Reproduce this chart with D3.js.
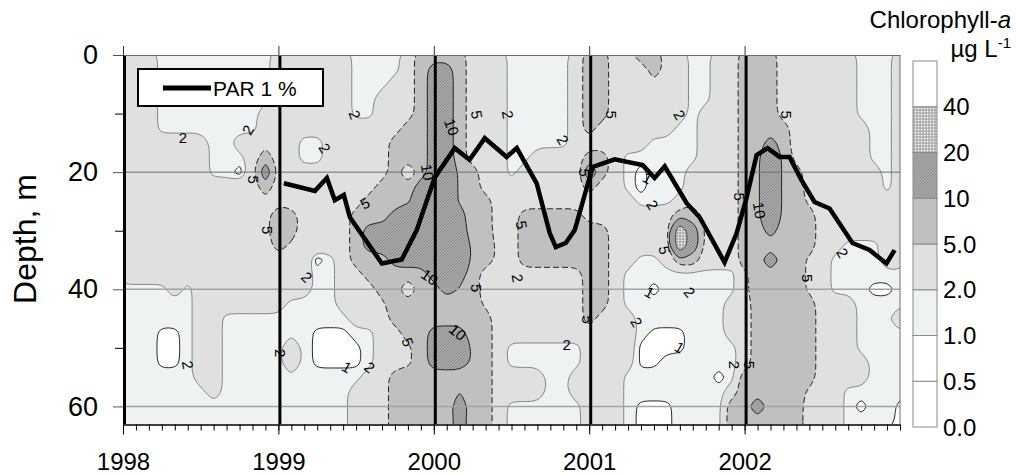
<!DOCTYPE html>
<html>
<head>
<meta charset="utf-8">
<script src="https://cdn.jsdelivr.net/npm/d3@7"></script>
<style>
  body { margin: 0; background: #fff; }
  text { font-family: "Liberation Sans", Arial, sans-serif; }
</style>
</head>
<body>
<svg id="chart" width="1016" height="475"></svg>
<script>
// Chlorophyll-a field: one column per month (Jan 1998 .. Jan 2003),
// one row every 2.5 m (0 .. 65 m). Each row is run-length coded ("code*count"),
// a code stands for the value read in that cell.
var codeValue = { w: 0.7, "1": 1.5, "2": 3, "3": 4.2, "5": 7, "9": 9.5, A: 13, B: 26 };
var nMonths = 61;
var depthStep = 2.5;

var chlRows = [
  "2*3 1*9 2*6 1*4 2 5*4 2*3 1*5 2 5*2 2*2 5*2 2*2 1*2 2*2 5*3 2*6 1*3 2",
  "2*3 1*9 2*6 1*4 2 5 A*2 5 2*3 1*5 2 5*2 2*3 5 2*2 1*2 2*2 5*3 2*6 1*3 2",
  "2*3 1*9 2*6 1*3 2*2 5 A*2 5 2*3 1*5 2 5*2 2*6 1*2 2*2 5*3 2*6 1*3 2",
  "2*3 1*9 2*6 1*2 2*3 5 A*2 5 2*3 1*5 2 5*2 2*6 1*2 2*2 5*3 2*6 1*3 2",
  "2*3 1*8 2*7 1*2 2*3 5 A*2 5 2*3 1*5 2 5*2 2*6 1 2*3 5*3 2*6 1*3 2",
  "2*3 1*8 2*11 5*2 A*2 5 2*3 1*5 2 5 2*6 1*2 2*3 5*4 2*6 1*2 2",
  "2*7 1*2 2*5 1*2 2*5 5*3 A*2 5 2*3 1*5 2*6 1*4 2*3 5*2 A 5 2*6 1*2 2",
  "2*7 1*3 2 5 2*2 1*2 2*5 5*3 A*2 5 2*3 1*2 2*4 5*2 2 1*6 2*3 5 9 A 9 2*6 1*2 2",
  "2*7 1*2 w 2 A 2*9 5 2 5 A*2 9 5 2*2 1 2*5 A 5 2 1 w 1*3 2*4 5 9 A 9 5 2*6 1 2",
  "2*11 5 2*8 5*3 A*3 9 5 2*8 5 2*2 1 w 1*3 2*4 5 9 A 9 5 2*6 1 2",
  "2*12 3 2*6 5*3 9 A*3 9 5*2 2*11 1*3 2 3 2*3 5 9 A 9 5 3 2*7",
  "2*11 3 5*2 2*4 5*3 A*6 5*2 2*2 5*5 2*6 3 5*2 3 2*2 5 9 A 9 5*2 2*7",
  "2*11 3 5*2 2*4 5 A*8 5*2 2*2 5*7 2*4 3 B A 3 2*2 5*2 A 5*3 2*7",
  "2*12 5 3 2*4 5 A*8 9 5 3 2 5*7 2*4 3 B A 3 2*2 5*6 2*2 1*3 2*2",
  "2*15 w 1 2 5*3 A*6 9 5 3 2 5*7 2*2 1*2 2 5*2 2*3 5*2 A 5*2 3 2 1*4 2*2",
  "2*15 1*2 2*2 5*5 A*3 5 2*8 5*2 2 1*9 3 5*4 3 2 1*6",
  "1*4 2 1 2*9 1*2 2*3 5*2 2 5*2 A 9 5 2*8 5*2 2 1*2 w 1*6 3 5*4 3 2 1*3 w*2 1",
  "1*6 2*7 1*4 2*3 3 5*7 3 2*7 5*2 2 1*8 2*2 5*5 2*3 1*4",
  "1*6 2*2 1*10 2*3 5*8 2*7 5 2*3 1*7 2*2 5*5 2*3 1*3 2",
  "1*3 w*2 1 2*2 1*7 w*3 1*2 2*2 5*2 A*3 5*2 2*11 1 w*3 1*3 2*2 5*5 2*3 1*4",
  "1*3 w*2 1 2*2 1*5 2 1 w*4 1 2*2 3 5 A*3 9 5 2 1*6 2*4 w*4 1*4 2 5*5 2*3 1*4",
  "1*3 w*2 1 2*2 1*5 2 1 w*4 1 2*2 3 5 A*3 9 5 2 1*6 2*4 w*2 1*6 2 5*5 2*4 1*3",
  "1*6 2*2 1*11 2*2 5*8 2*4 1*2 2*4 1*7 w 1 5*6 2*4 1*3",
  "1*7 2 1*10 2*3 5*5 9 5*2 2*4 1*2 2*4 1*8 2 5*5 3 2*2 1*5",
  "1*18 2*3 5*5 A 5*2 2 1*6 2*3 1 w*3 1*4 5*2 A 5*3 2*3 1 w 1*2 w",
  "1*18 2*3 5*5 A 5*2 2 1*6 2*3 1 w*3 1*4 5*6 2*3 1*4 w",
  "1*18 2*3 5*5 A 5*2 2 1*6 2*3 1 w*3 1*4 5*6 2*3 1*3 w*2"
];

var levels = [0.5, 1, 2, 5, 10, 20, 40];

// PAR 1 % depth
var parYears = [1999.035, 1999.235, 1999.312, 1999.363, 1999.421, 1999.46, 1999.666, 1999.794,
  1999.89, 2000.006, 2000.135, 2000.23, 2000.328, 2000.469, 2000.534, 2000.662, 2000.746,
  2000.785, 2000.849, 2000.907, 2001.022, 2001.164, 2001.344, 2001.421, 2001.486, 2001.627,
  2001.711, 2001.871, 2001.949, 2002.013, 2002.077, 2002.148, 2002.225, 2002.289, 2002.367,
  2002.45, 2002.547, 2002.694, 2002.804, 2002.913, 2002.965];
var parDepths = [21.9, 23.2, 21.0, 24.8, 23.9, 27.7, 35.6, 34.9, 29.9, 20.9, 15.9, 17.9, 14.2,
  17.4, 15.9, 21.9, 30.4, 32.8, 32.1, 29.9, 19.1, 17.8, 18.8, 21.0, 19.0, 25.3, 27.7, 35.4,
  30.4, 24.3, 17.1, 15.9, 17.4, 17.4, 21.4, 25.1, 26.2, 32.1, 33.3, 35.6, 33.3];

// contour labels: [year, depth, text, angle]
var contourLabels = [
  [1998.386, 14.0, "2", 0], [1998.804, 12.8, "2", -60], [1999.299, 15.9, "2", 60],
  [1999.492, 10.2, "2", 70], [1998.842, 21.3, "5", 90], [1998.932, 29.9, "5", 90],
  [1999.556, 25.3, "5", -30], [1999.961, 20.0, "10", 80], [2000.116, 12.3, "10", 70],
  [2000.277, 10.2, "5", 80], [2000.476, 10.2, "2", 80], [2000.830, 14.5, "2", 60],
  [2000.566, 29.0, "5", 80], [2000.971, 20.1, "5", 90], [1999.974, 37.9, "10", 35],
  [1999.183, 37.9, "2", 45], [2000.277, 39.8, "5", 90], [1999.833, 49.0, "5", 70],
  [2000.154, 47.3, "10", 40], [1999.441, 53.3, "1", 30], [1999.588, 53.3, "2", 40],
  [1999.016, 50.9, "2", 90], [1998.418, 52.9, "2", 80], [2000.855, 49.5, "2", 0],
  [2000.540, 38.1, "2", 80], [2000.990, 45.2, "5", 90], [2001.145, 10.2, "5", 90],
  [2001.582, 10.2, "2", 60], [2001.408, 25.6, "2", 60], [2001.486, 33.3, "5", 80],
  [2001.389, 40.5, "1", 30], [2001.646, 40.5, "2", 50], [2001.305, 45.6, "2", 60],
  [2001.582, 49.9, "1", 30], [2001.936, 52.9, "2", 90], [2002.032, 52.9, "5", 90],
  [2001.968, 24.2, "5", 90], [2002.096, 26.5, "10", 80], [2002.270, 10.2, "5", 90],
  [2002.405, 38.1, "5", 90], [2002.630, 33.8, "2", 60], [2001.376, 21.0, "1", 30]
];

var yearTicks = [1998, 1999, 2000, 2001, 2002];
var depthTicks = [0, 20, 40, 60];
var depthMinor = [10, 30, 50];
var legendLabels = ["0.0", "0.5", "1.0", "2.0", "5.0", "10", "20", "40"];

var svg = d3.select("#chart");

var x = d3.scaleLinear().domain([1998, 2003]).range([123, 900]);
var y = d3.scaleLinear().domain([0, 63]).range([55, 424]);

// expand the coded rows
function expandRow(s) {
  var out = [];
  s.trim().split(/\s+/).forEach(function(tok) {
    var p = tok.split("*");
    var n = p.length > 1 ? +p[1] : 1;
    for (var k = 0; k < n; k++) out.push(codeValue[p[0]]);
  });
  while (out.length < nMonths) out.push(out[out.length - 1]);
  return out.slice(0, nMonths);
}
var values = [];
chlRows.forEach(function(r) { values = values.concat(expandRow(r)); });

var contours = d3.contours()
  .size([nMonths, chlRows.length])
  .thresholds(levels)(values);

// grid coordinate -> pixel
function gx(c) { return x(1998 + (c - 0.5) / 12); }
function gy(c) { return y((c - 0.5) * depthStep); }

// long rings get a B-spline, small ones go through their points
var smoothRing = d3.line().curve(d3.curveBasisClosed);
var tightRing = d3.line().curve(d3.curveCatmullRomClosed.alpha(0.5));
function contourPath(geom) {
  return geom.coordinates.map(function(poly) {
    return poly.map(function(ring) {
      var pts = ring.slice(0, -1).map(function(p) { return [gx(p[0]), gy(p[1])]; });
      if (pts.length < 3) return "";
      return pts.length >= 10 ? smoothRing(pts) : tightRing(pts);
    }).join("");
  }).join("");
}

// defs: clip + fill patterns
var defs = svg.append("defs");
defs.append("clipPath").attr("id", "plotClip")
  .append("rect").attr("x", 123).attr("y", 55).attr("width", 777).attr("height", 369);

var p10 = defs.append("pattern").attr("id", "p10")
  .attr("width", 3).attr("height", 3).attr("patternUnits", "userSpaceOnUse");
p10.append("rect").attr("width", 3).attr("height", 3).attr("fill", "#a9a9a9");
p10.append("path").attr("d", "M0,3L3,0").attr("stroke", "#858585").attr("stroke-width", 0.8);

var p20 = defs.append("pattern").attr("id", "p20")
  .attr("width", 3).attr("height", 3).attr("patternUnits", "userSpaceOnUse");
p20.append("rect").attr("width", 3).attr("height", 3).attr("fill", "#bdbdbd");
p20.append("rect").attr("width", 1.2).attr("height", 1.2).attr("fill", "#ffffff");
p20.append("rect").attr("x", 1.5).attr("y", 1.5).attr("width", 1).attr("height", 1).attr("fill", "#8a8a8a");

// band colours: index 0 = below 0.5, then one per threshold
var bandFill = ["#ffffff", "#ffffff", "#eef2f3", "#e0e0e0", "#c0c0c0", "url(#p10)", "url(#p20)", "#ffffff"];
var lineStyle = {
  1: { stroke: "#111", width: 0.9, dash: null },
  2: { stroke: "#7a7a7a", width: 0.9, dash: null },
  5: { stroke: "#222", width: 1, dash: "6,3" },
  10: { stroke: "#111", width: 0.9, dash: null },
  20: { stroke: "#333", width: 0.8, dash: null }
};

var plot = svg.append("g").attr("clip-path", "url(#plotClip)");

plot.append("rect")
  .attr("x", 123).attr("y", 55).attr("width", 777).attr("height", 369)
  .attr("fill", bandFill[0]);

plot.append("g").selectAll("path")
  .data(contours)
  .join("path")
  .attr("d", function(d) { return contourPath(d); })
  .attr("fill", function(d, i) { return bandFill[i + 1]; })
  .attr("fill-rule", "evenodd");

plot.append("g").selectAll("path")
  .data(contours.filter(function(d) { return lineStyle[d.value]; }))
  .join("path")
  .attr("d", function(d) { return contourPath(d); })
  .attr("fill", "none")
  .attr("stroke", function(d) { return lineStyle[d.value].stroke; })
  .attr("stroke-width", function(d) { return lineStyle[d.value].width; })
  .attr("stroke-dasharray", function(d) { return lineStyle[d.value].dash; });

// horizontal grid lines
plot.append("g").selectAll("line")
  .data(depthTicks.slice(1))
  .join("line")
  .attr("x1", 123).attr("x2", 900)
  .attr("y1", function(d) { return y(d); })
  .attr("y2", function(d) { return y(d); })
  .attr("stroke", function(d) { return d === 20 ? "#6e6e6e" : "#a3a3a3"; })
  .attr("stroke-width", function(d) { return d === 20 ? 1 : 1.6; });

// contour labels
plot.append("g").selectAll("text")
  .data(contourLabels)
  .join("text")
  .attr("transform", function(d) { return "translate(" + x(d[0]) + "," + y(d[1]) + ") rotate(" + d[3] + ")"; })
  .attr("text-anchor", "middle")
  .attr("dominant-baseline", "central")
  .attr("font-size", 15)
  .attr("fill", "#000")
  .text(function(d) { return d[2]; });

// year lines
plot.append("g").selectAll("line")
  .data(yearTicks)
  .join("line")
  .attr("x1", function(d) { return x(d) + 1.5; })
  .attr("x2", function(d) { return x(d) + 1.5; })
  .attr("y1", 55).attr("y2", 424)
  .attr("stroke", "#000").attr("stroke-width", 3);

// PAR 1 % line
var parLine = d3.line()
  .x(function(d, i) { return x(parYears[i]); })
  .y(function(d) { return y(d); });
plot.append("path")
  .attr("d", parLine(parDepths))
  .attr("fill", "none")
  .attr("stroke", "#000")
  .attr("stroke-width", 4.5)
  .attr("stroke-linejoin", "miter");

// frame
svg.append("line").attr("x1", 900).attr("x2", 900).attr("y1", 55).attr("y2", 424)
  .attr("stroke", "#6e6e6e").attr("stroke-width", 1);

// axes
var xAxisMinor = svg.append("g")
  .attr("transform", "translate(0,424.5)")
  .call(d3.axisBottom(x).tickValues(d3.range(0, 61).map(function(m) { return 1998 + m / 12; }))
    .tickSize(6).tickSizeOuter(0).tickFormat(""));
var xAxis = svg.append("g")
  .attr("transform", "translate(0,424.5)")
  .call(d3.axisBottom(x).tickValues(yearTicks).tickSize(10).tickSizeOuter(0)
    .tickPadding(18).tickFormat(d3.format("d")));
xAxis.selectAll("text").attr("font-size", 24).attr("fill", "#000");

var topAxis = svg.append("g")
  .attr("transform", "translate(0,55)")
  .call(d3.axisTop(x).tickValues(yearTicks).tickSize(9).tickSizeOuter(0).tickFormat(""));
topAxis.select(".domain").attr("stroke", "#6e6e6e");
topAxis.selectAll(".tick line").attr("stroke", "#333");

var yAxisMinor = svg.append("g")
  .attr("transform", "translate(123,0)")
  .call(d3.axisLeft(y).tickValues(depthMinor).tickSize(8).tickSizeOuter(0).tickFormat(""));
var yAxis = svg.append("g")
  .attr("transform", "translate(123,0)")
  .call(d3.axisLeft(y).tickValues(depthTicks).tickSize(10).tickSizeOuter(0).tickPadding(15));
yAxis.selectAll("text").attr("font-size", 27).attr("fill", "#000");
yAxis.selectAll(".tick line").attr("stroke", "#555");
svg.selectAll(".domain").attr("stroke-width", 1);
svg.selectAll("g text").attr("font-family", "Liberation Sans, Arial, sans-serif");

svg.append("text")
  .attr("transform", "translate(36,239) rotate(-90)")
  .attr("text-anchor", "middle")
  .attr("font-size", 32)
  .text("Depth, m");

// PAR legend box
var legendBox = svg.append("g");
legendBox.append("rect")
  .attr("x", 138).attr("y", 69).attr("width", 185).attr("height", 37)
  .attr("fill", "#fff").attr("stroke", "#000").attr("stroke-width", 2);
legendBox.append("line")
  .attr("x1", 163).attr("x2", 211).attr("y1", 88).attr("y2", 88)
  .attr("stroke", "#000").attr("stroke-width", 5);
legendBox.append("text")
  .attr("x", 213).attr("y", 96)
  .attr("font-size", 21)
  .text("PAR 1 %");

// colour bar
var barY = d3.scaleLinear().domain([0, 8]).range([427, 61]);
var bar = svg.append("g");
bar.selectAll("rect")
  .data(d3.range(8))
  .join("rect")
  .attr("x", 913).attr("width", 24)
  .attr("y", function(k) { return barY(k + 1); })
  .attr("height", function(k) { return barY(k) - barY(k + 1); })
  .attr("fill", function(k) { return bandFill[k]; })
  .attr("stroke", "#8a8a8a").attr("stroke-width", 1);
bar.selectAll("text")
  .data(legendLabels)
  .join("text")
  .attr("x", 943)
  .attr("y", function(d, k) { return barY(k); })
  .attr("dy", "0.36em")
  .attr("font-size", 24)
  .text(function(d) { return d; });

var title = svg.append("text")
  .attr("x", 1011).attr("y", 28)
  .attr("text-anchor", "end")
  .attr("font-size", 24);
title.append("tspan").text("Chlorophyll-");
title.append("tspan").attr("font-style", "italic").text("a");

var unit = svg.append("text")
  .attr("x", 1011).attr("y", 57)
  .attr("text-anchor", "end")
  .attr("font-size", 24);
unit.append("tspan").text("\u00b5g L");
unit.append("tspan").attr("font-size", 15).attr("dy", -9).text("-1");
</script>
</body>
</html>
